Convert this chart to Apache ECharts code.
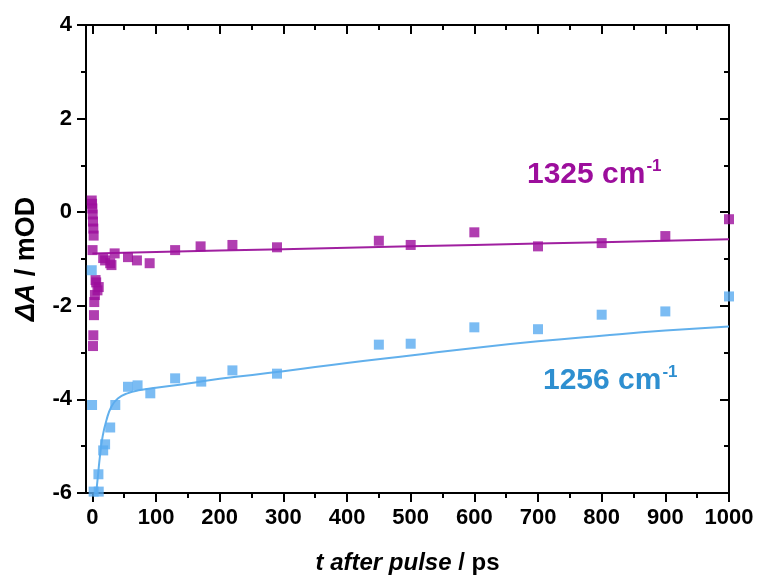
<!DOCTYPE html>
<html>
<head>
<meta charset="utf-8">
<script src="https://cdn.jsdelivr.net/npm/echarts@6/dist/echarts.min.js"></script>
<style>
  html, body { margin: 0; padding: 0; background: #fff; }
  #chart { width: 761px; height: 585px; }
</style>
</head>
<body>
<div id="chart"></div>
<script>
// Transient absorption kinetics at two probe wavenumbers
const purpleT = [-1, -0.5, 0, 0.5, 1, 1.5, 2, 0.3, 1, 1.5, 2.5, 3, 4, 5, 6, 8, 10, 17, 20, 28, 30, 35, 56, 70, 90, 130, 170, 220, 290, 450, 500, 600, 700, 800, 900, 1000];
const purpleV = [0.25, 0.18, 0.08, -0.05, -0.2, -0.35, -0.5, -0.81, -2.86, -2.63, -2.2, -1.92, -1.77, -1.45, -1.5, -1.67, -1.6, -0.98, -1.03, -1.09, -1.13, -0.88, -0.96, -1.03, -1.09, -0.81, -0.73, -0.7, -0.75, -0.61, -0.7, -0.43, -0.73, -0.66, -0.51, -0.15];

const blueT = [-1, -0.5, 2, 10, 9.5, 17, 20, 28, 36, 56, 71, 91, 130, 171, 220, 290, 450, 500, 600, 700, 800, 900, 1000];
const blueV = [-1.24, -4.12, -5.97, -5.97, -5.6, -5.09, -4.96, -4.6, -4.12, -3.73, -3.7, -3.87, -3.55, -3.62, -3.38, -3.45, -2.83, -2.81, -2.46, -2.5, -2.19, -2.12, -1.8];

// Fitted curves
const purpleFitT = [0, 100, 200, 400, 600, 800, 1000];
const purpleFitV = [-0.88, -0.85, -0.82, -0.76, -0.7, -0.64, -0.58];

const blueFitT = [6, 9, 12, 16, 22, 30, 40, 55, 75, 100, 150, 200, 300, 400, 500, 600, 700, 800, 900, 1000];
const blueFitV = [-6.0, -5.6, -5.2, -4.8, -4.45, -4.15, -3.98, -3.87, -3.8, -3.75, -3.66, -3.56, -3.4, -3.22, -3.06, -2.9, -2.76, -2.64, -2.53, -2.44];

const xMajor = [0, 100, 200, 300, 400, 500, 600, 700, 800, 900, 1000];
const xMinor = [50, 150, 250, 350, 450, 550, 650, 750, 850, 950];

const label1325 = '1325 cm';
const label1256 = '1256 cm';

const FONT = '"Liberation Sans", Arial, Helvetica, sans-serif';
const PURPLE = '#9C0E9C';
const PURPLE_LINE = '#A020A0';
const BLUE = '#5AABF0';
const BLUE_LINE = '#62B0EC';
const BLUE_TEXT = '#2E8FD0';

const zip = (a, b) => a.map((v, i) => [v, b[i]]);

const baseX = { type: 'value', min: -10, max: 1000, gridIndex: 0 };
const black = '#000';

const chart = echarts.init(document.getElementById('chart'), null, { renderer: 'canvas' });

chart.setOption({
  animation: false,
  backgroundColor: '#fff',
  grid: { left: 86, right: 32, top: 25, bottom: 92, containLabel: false },
  xAxis: [
    Object.assign({}, baseX, {
      position: 'bottom',
      axisLine: { show: true, onZero: false, lineStyle: { color: black, width: 2 } },
      axisTick: { show: true, customValues: xMajor, length: 9, lineStyle: { color: black, width: 2 } },
      axisLabel: { customValues: xMajor, formatter: (v) => String(v), color: black, fontFamily: FONT, fontWeight: 'bold', fontSize: 22, margin: 14 },
      splitLine: { show: false },
      name: '{i|t after pulse}{n| / ps}',
      nameLocation: 'middle',
      nameGap: 58,
      nameTextStyle: {
        rich: {
          i: { fontFamily: FONT, fontWeight: 'bold', fontStyle: 'italic', fontSize: 24, color: black },
          n: { fontFamily: FONT, fontWeight: 'bold', fontSize: 24, color: black }
        }
      }
    }),
    Object.assign({}, baseX, {
      position: 'bottom',
      axisLine: { show: false, onZero: false },
      axisTick: { show: true, customValues: xMinor, length: 5, lineStyle: { color: black, width: 2 } },
      axisLabel: { show: false },
      splitLine: { show: false }
    }),
    Object.assign({}, baseX, {
      position: 'top',
      axisLine: { show: true, onZero: false, lineStyle: { color: black, width: 2 } },
      axisTick: { show: true, inside: true, customValues: xMajor, length: 9, lineStyle: { color: black, width: 2 } },
      axisLabel: { show: false },
      splitLine: { show: false }
    }),
    Object.assign({}, baseX, {
      position: 'top',
      axisLine: { show: false, onZero: false },
      axisTick: { show: true, inside: true, customValues: xMinor, length: 5, lineStyle: { color: black, width: 2 } },
      axisLabel: { show: false },
      splitLine: { show: false }
    })
  ],
  yAxis: [
    {
      type: 'value', min: -6, max: 4, interval: 2, position: 'left',
      axisLine: { show: true, onZero: false, lineStyle: { color: black, width: 2 } },
      axisTick: { show: true, length: 9, lineStyle: { color: black, width: 2 } },
      minorTick: { show: true, splitNumber: 2, length: 5, lineStyle: { color: black, width: 2 } },
      axisLabel: { color: black, fontFamily: FONT, fontWeight: 'bold', fontSize: 22, margin: 14 },
      splitLine: { show: false },
      minorSplitLine: { show: false },
      name: '{i|ΔA}{n| / mOD}',
      nameLocation: 'middle',
      nameGap: 46,
      nameTextStyle: {
        rich: {
          i: { fontFamily: FONT, fontWeight: 'bold', fontStyle: 'italic', fontSize: 27, color: black },
          n: { fontFamily: FONT, fontWeight: 'bold', fontSize: 27, color: black }
        }
      }
    },
    {
      type: 'value', min: -6, max: 4, interval: 2, position: 'right',
      axisLine: { show: true, onZero: false, lineStyle: { color: black, width: 2 } },
      axisTick: { show: true, inside: true, length: 9, lineStyle: { color: black, width: 2 } },
      minorTick: { show: true, splitNumber: 2, length: 5, lineStyle: { color: black, width: 2 } },
      axisLabel: { show: false },
      splitLine: { show: false },
      minorSplitLine: { show: false }
    }
  ],
  series: [
    {
      type: 'line', name: 'fit1325', data: zip(purpleFitT, purpleFitV),
      showSymbol: false, smooth: true, lineStyle: { color: PURPLE_LINE, width: 2 }, z: 2
    },
    {
      type: 'line', name: 'fit1256', data: zip(blueFitT, blueFitV),
      showSymbol: false, smooth: true, lineStyle: { color: BLUE_LINE, width: 2 }, z: 2
    },
    {
      type: 'scatter', name: '1325', data: zip(purpleT, purpleV),
      symbol: 'rect', symbolSize: 10, itemStyle: { color: PURPLE }, z: 3
    },
    {
      type: 'scatter', name: '1256', data: zip(blueT, blueV),
      symbol: 'rect', symbolSize: 10, itemStyle: { color: BLUE }, z: 3
    }
  ],
  graphic: [
    {
      type: 'text', left: 527, top: 158,
      style: {
        text: '{m|' + label1325 + '}{s|-1}',
        rich: {
          m: { fontFamily: FONT, fontWeight: 'bold', fontSize: 30, fill: PURPLE, verticalAlign: 'bottom' },
          s: { fontFamily: FONT, fontWeight: 'bold', fontSize: 17, fill: PURPLE, verticalAlign: 'top', padding: [0, 0, 15, 1] }
        }
      }
    },
    {
      type: 'text', left: 543, top: 364,
      style: {
        text: '{m|' + label1256 + '}{s|-1}',
        rich: {
          m: { fontFamily: FONT, fontWeight: 'bold', fontSize: 30, fill: BLUE_TEXT, verticalAlign: 'bottom' },
          s: { fontFamily: FONT, fontWeight: 'bold', fontSize: 17, fill: BLUE_TEXT, verticalAlign: 'top', padding: [0, 0, 15, 1] }
        }
      }
    }
  ]
});
</script>
</body>
</html>
